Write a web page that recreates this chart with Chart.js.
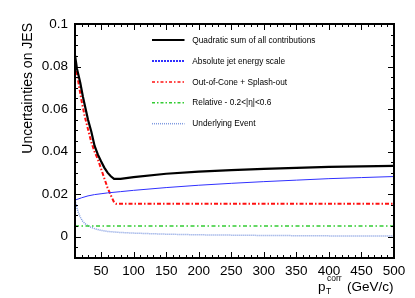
<!DOCTYPE html>
<html><head><meta charset="utf-8">
<script src="https://cdn.jsdelivr.net/npm/chart.js@4/dist/chart.umd.min.js"></script>
<style>html,body{margin:0;padding:0;background:#fff}</style>
</head><body>
<canvas id="c" width="415" height="298"></canvas>
<script>
// ---- data ----
const xTickValues = [50,100,150,200,250,300,350,400,450,500];
const yTickValues = [0,0.02,0.04,0.06,0.08,0.1];
const seriesLabels = [
  "Quadratic sum of all contributions",
  "Absolute jet energy scale",
  "Out-of-Cone + Splash-out",
  "Relative - 0.2<|\u03b7|<0.6",
  "Underlying Event"
];
const quadX = [10,13,18,22,26,30,35,40,45,50,55,60,65,70,80,100,150,200,250,300,350,400,450,500];
const quadY = [0.0854,0.079,0.0725,0.066,0.0605,0.055,0.0495,0.0428,0.0387,0.0355,0.0325,0.0301,0.0284,0.0272,0.0272,0.028,0.0296,0.0306,0.0313,0.0319,0.0324,0.0328,0.0331,0.0333];
const absX = [10,20,30,40,50,60,80,100,150,200,250,300,350,400,450,500];
const absY = [0.0172,0.0183,0.0192,0.0198,0.0202,0.0206,0.0212,0.0218,0.0231,0.0242,0.0251,0.0259,0.0266,0.0273,0.0278,0.0283];
const oocX = [10,15,20,25,30,35,40,45,50,55,60,65,70,73,500];
const oocY = [0.0823,0.073,0.064,0.0565,0.0505,0.0445,0.040,0.0365,0.032,0.0275,0.023,0.0195,0.0162,0.0155,0.0155];
const relX = [10,500];
const relY = [0.005,0.005];
const ueX = [10,12,15,18,22,26,30,35,40,50,60,80,100,150,200,300,400,500];
const ueY = [0.0172,0.0145,0.0115,0.0092,0.0072,0.006,0.0051,0.0044,0.0038,0.003,0.0025,0.002,0.0017,0.0012,0.0009,0.0006,0.0004,0.0003];

const pts = (xs, ys) => xs.map((x, i) => ({x, y: ys[i]}));
const FONT = "'Liberation Sans', Arial, Helvetica, sans-serif";

const styles = [
  {color:'#000000', width:2.2, dash:[], legDash:[], legWidth:2},
  {color:'#3030ff', width:1, dash:[], legDash:[2,1], legWidth:2},
  {color:'#ff1010', width:2, dash:[4,2,1.5,2], legDash:[3,2,1.5,2], legWidth:1.5},
  {color:'#33cc33', width:1.5, dash:[4,2.5,1.5,2.5], legDash:[3,2,1.5,2], legWidth:1.5},
  {color:'#7f9ae0', width:1.5, dash:[1,1], legDash:[1,1], legWidth:1.5}
];
const dataSets = [pts(quadX,quadY), pts(absX,absY), pts(oocX,oocY), pts(relX,relY), pts(ueX,ueY)];

const framePlugin = {
  id: 'frame',
  afterDatasetsDraw(chart) {
    const ctx = chart.ctx, a = chart.chartArea;
    const xs = chart.scales.x, ys = chart.scales.y;
    ctx.save();
    ctx.strokeStyle = '#000'; ctx.lineWidth = 1; ctx.setLineDash([]);
    // x ticks
    for (let v = 10; v <= 500; v += 10) {
      const px = Math.round(xs.getPixelForValue(v)) + 0.5;
      const len = (v % 50 === 0) ? 6 : 3;
      ctx.beginPath();
      ctx.moveTo(px, a.bottom); ctx.lineTo(px, a.bottom - len);
      ctx.moveTo(px, a.top); ctx.lineTo(px, a.top + len);
      ctx.stroke();
    }
    // y ticks
    for (let k = -2; k <= 20; k++) {
      const v = k * 0.005;
      const py = Math.round(ys.getPixelForValue(v)) + 0.5;
      const len = (k % 4 === 0) ? 6 : 3;
      ctx.beginPath();
      ctx.moveTo(a.left, py); ctx.lineTo(a.left + len, py);
      ctx.moveTo(a.right, py); ctx.lineTo(a.right - len, py);
      ctx.stroke();
    }
    // frame
    ctx.lineWidth = 2;
    ctx.strokeRect(a.left, a.top, a.right - a.left, a.bottom - a.top);

    // y title
    ctx.fillStyle = '#000';
    ctx.save();
    ctx.translate(28, a.top - 1);
    ctx.rotate(-Math.PI / 2);
    ctx.font = '14px ' + FONT;
    ctx.textAlign = 'right'; ctx.textBaseline = 'middle';
    ctx.fillText('Uncertainties on JES', 0, 0);
    ctx.restore();

    // x title
    const base = 291;
    ctx.font = '13.5px ' + FONT;
    ctx.textAlign = 'right'; ctx.textBaseline = 'alphabetic';
    ctx.fillText('(GeV/c)', 393.5, base);
    ctx.textAlign = 'left';
    ctx.fillText('p', 318, base);
    ctx.font = '8.5px ' + FONT;
    ctx.fillText('T', 326, base + 3);
    ctx.fillText('corr', 327, base - 10);

    // legend
    const rows = [40, 61, 82, 102.7, 123.7];
    chart.data.datasets.forEach((ds, i) => {
      const st = styles[i];
      ctx.strokeStyle = st.color; ctx.lineWidth = st.legWidth;
      ctx.setLineDash(st.legDash);
      ctx.beginPath();
      ctx.moveTo(152, rows[i]); ctx.lineTo(184.5, rows[i]);
      ctx.stroke();
      ctx.setLineDash([]);
      ctx.fillStyle = '#000';
      ctx.font = '8.3px ' + FONT;
      ctx.textAlign = 'left'; ctx.textBaseline = 'middle';
      ctx.fillText(ds.label, 192.3, rows[i] + 0.5);
    });
    ctx.restore();
  }
};

new Chart(document.getElementById('c'), {
  type: 'scatter',
  data: {
    datasets: dataSets.map((d, i) => ({
      label: seriesLabels[i],
      data: d,
      showLine: true,
      borderColor: styles[i].color,
      backgroundColor: styles[i].color,
      borderWidth: styles[i].width,
      borderDash: styles[i].dash,
      pointRadius: 0,
      tension: 0,
      fill: false
    }))
  },
  options: {
    responsive: false,
    devicePixelRatio: 1,
    animation: false,
    layout: {padding: {top: 24, right: 21, left: 0, bottom: 0}},
    plugins: {legend: {display: false}, tooltip: {enabled: false}},
    scales: {
      x: {
        type: 'linear', min: 10, max: 500,
        afterBuildTicks: s => { s.ticks = xTickValues.map(v => ({value: v})); },
        afterFit: s => { s.height = 40; },
        grid: {display: false, drawTicks: false},
        border: {display: false},
        ticks: {color: '#000', font: {family: FONT, size: 13.5}, padding: 5, maxRotation: 0, autoSkip: false}
      },
      y: {
        type: 'linear', min: -0.01, max: 0.1,
        afterBuildTicks: s => { s.ticks = yTickValues.map(v => ({value: v})); },
        afterFit: s => { s.width = 75; },
        grid: {display: false, drawTicks: false},
        border: {display: false},
        ticks: {color: '#000', font: {family: FONT, size: 13.5}, padding: 7,
          callback: v => String(+Number(v).toFixed(3))}
      }
    }
  },
  plugins: [framePlugin]
});
</script>
</body></html>
